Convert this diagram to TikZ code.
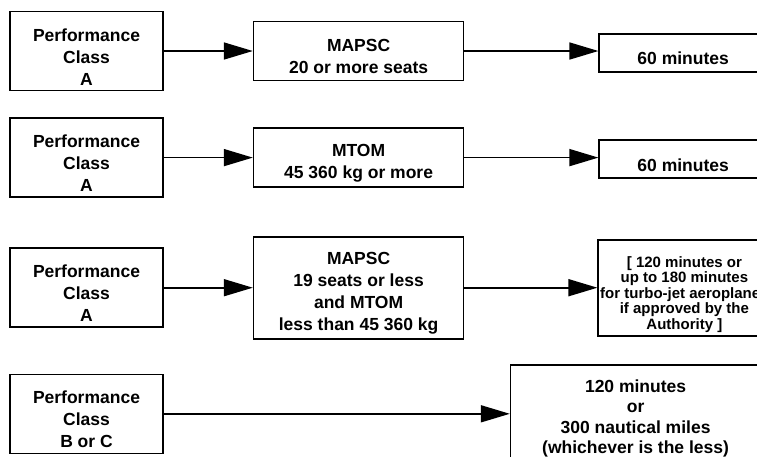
\documentclass[tikz,border=0pt]{standalone}
\usepackage{fontspec}
\setmainfont{Liberation Sans}
\usetikzlibrary{positioning,arrows.meta}
\newcommand{\tstrut}{\rule{0pt}{24pt}}

\begin{document}
\begin{tikzpicture}[
        node distance = 26pt and 89pt,
        box/.style  = {rectangle, draw, line width=1.6pt, inner sep=2pt,
                       text centered, align=center,
                       font=\bfseries\fontsize{17.5}{22}\selectfont},
        cls/.style  = {box, minimum width=153pt, minimum height=79pt},
        crit/.style = {box, minimum width=210pt, minimum height=59pt},
        res/.style  = {box, minimum width=168pt, minimum height=38pt},
        arr/.style  = {-{Triangle[length=29pt,width=17pt]}, line width=1.6pt}
    ]
    \path[use as bounding box, clip] (0,0) rectangle (757pt,-456pt);
    % performance classes
    \node[cls] (cls1) at (86.5pt,-51pt) {\tstrut Performance\\Class\\A};
    \node[cls, below=26pt of cls1]   (cls2) {\tstrut Performance\\Class\\A};
    \node[cls, below=49.5pt of cls2] (cls3) {\tstrut Performance\\Class\\A};
    \node[cls, below=45.5pt of cls3] (cls4) {\tstrut Performance\\Class\\B or C};
    % criteria
    \node[crit, right=of cls1] (crit1) {\tstrut MAPSC\\20 or more seats};
    \node[crit, right=of cls2] (crit2) {\tstrut MTOM\\45 360 kg or more};
    \node[crit, right=of cls3, minimum height=102pt] (crit3)
        {\tstrut MAPSC\\19 seats or less\\and MTOM\\less than 45 360 kg};
    % thresholds
    \node[res, right=134pt of crit1, yshift=-2pt]   (res1) {\tstrut 60 minutes};
    \node[res, right=134pt of crit2, yshift=-1.5pt] (res2) {\tstrut 60 minutes};
    \node[res, right=133pt of crit3, minimum height=96pt,
          font=\bfseries\fontsize{15}{15.5}\selectfont] (res3)
        {\tstrut [ 120 minutes or\\up to 180 minutes\\for turbo-jet aeroplanes\\if approved by the\\Authority ]};
    \node[box, right=346pt of cls4, yshift=1pt,
          minimum width=250pt, minimum height=96pt,
          font=\bfseries\fontsize{17.5}{20.5}\selectfont] (res4)
        {\tstrut 120 minutes\\or\\300 nautical miles\\(whichever is the less)};
    % arrows
    \draw[arr] (cls1) -- (crit1);
    \draw[arr] (cls2) -- (crit2);
    \draw[arr] (cls3) -- (crit3);
    \draw[arr] (crit1.east) -- (crit1.east -| res1.west);
    \draw[arr] (crit2.east) -- (crit2.east -| res2.west);
    \draw[arr] (crit3.east) -- (crit3.east -| res3.west);
    \draw[arr] (cls4.east) -- (cls4.east -| res4.west);
\end{tikzpicture}
\end{document}
